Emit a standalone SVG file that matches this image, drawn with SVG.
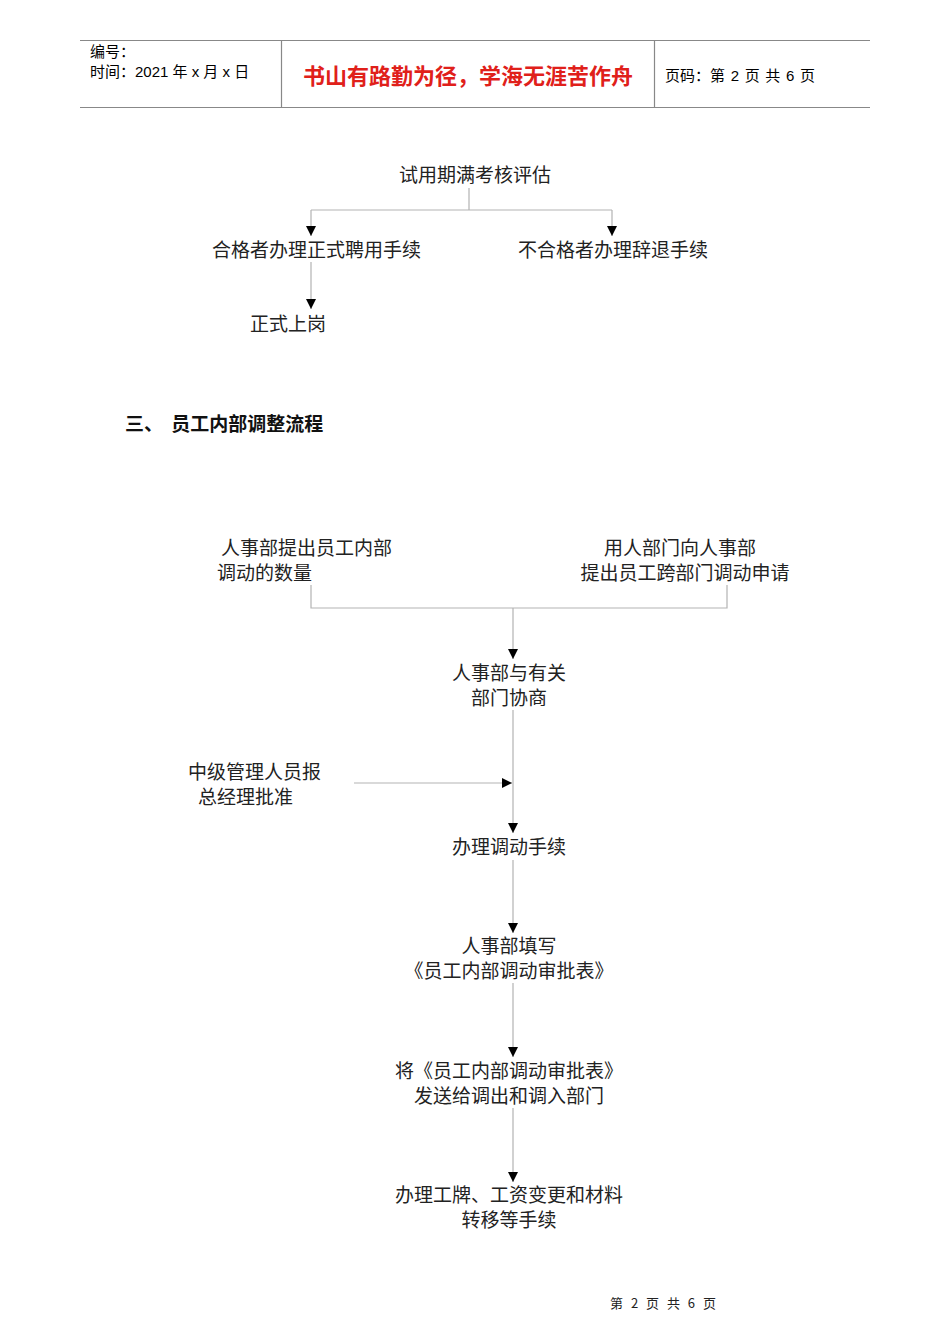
<svg xmlns="http://www.w3.org/2000/svg" width="950" height="1344" viewBox="0 0 950 1344">
<style>
.hd{font-family:"Liberation Sans","Noto Sans CJK SC",sans-serif;font-size:15px;fill:#000}
.t{font-family:"Noto Sans CJK SC",sans-serif;font-size:19px;fill:#222}
.c{text-anchor:middle}
.ln{stroke:#b3b3b3;stroke-width:1.2;fill:none}
.hl{stroke:#888;stroke-width:1.2;fill:none}
</style>
<defs>
<marker id="ar" markerUnits="userSpaceOnUse" markerWidth="12" markerHeight="12" viewBox="0 0 12 10" refX="11" refY="5" orient="auto">
<path d="M1,0 L11,5 L1,10 Z" fill="#000"/>
</marker>
</defs>
<rect width="950" height="1344" fill="#fff"/>
<g id="header">
<line class="hl" x1="80" y1="40.5" x2="870" y2="40.5"/>
<line class="hl" x1="80" y1="107.5" x2="870" y2="107.5"/>
<line class="hl" x1="281.5" y1="40" x2="281.5" y2="107"/>
<line class="hl" x1="654.5" y1="40" x2="654.5" y2="107"/>
<text class="hd" x="90" y="57">编号：</text>
<text class="hd" x="90" y="77">时间：2021 年 x 月 x 日</text>
<text x="468" y="84" text-anchor="middle" font-family="Noto Sans CJK SC,sans-serif" font-size="22" font-weight="bold" fill="#e0201a">书山有路勤为径，学海无涯苦作舟</text>
<text class="hd" x="665" y="81" word-spacing="1.5">页码：第 2 页  共 6 页</text>
</g>
<g id="connectors">
<polyline class="ln" points="469,188 469,210"/>
<polyline class="ln" points="311,210 612,210"/>
<line class="ln" x1="311" y1="210" x2="311" y2="236" marker-end="url(#ar)"/>
<line class="ln" x1="612" y1="210" x2="612" y2="236" marker-end="url(#ar)"/>
<line class="ln" x1="311" y1="262" x2="311" y2="309" marker-end="url(#ar)"/>
<polyline class="ln" points="311,585 311,608 727,608 727,585"/>
<line class="ln" x1="513" y1="608" x2="513" y2="659" marker-end="url(#ar)"/>
<line class="ln" x1="513" y1="710" x2="513" y2="833" marker-end="url(#ar)"/>
<line class="ln" x1="354" y1="783" x2="512" y2="783" marker-end="url(#ar)"/>
<line class="ln" x1="513" y1="860" x2="513" y2="933" marker-end="url(#ar)"/>
<line class="ln" x1="513" y1="983" x2="513" y2="1057" marker-end="url(#ar)"/>
<line class="ln" x1="513" y1="1108" x2="513" y2="1182" marker-end="url(#ar)"/>
</g>
<g id="n-eval"><text class="t c" x="475" y="182">试用期满考核评估</text></g>
<g id="n-pass"><text class="t" x="212" y="257">合格者办理正式聘用手续</text></g>
<g id="n-fail"><text class="t" x="518" y="257">不合格者办理辞退手续</text></g>
<g id="n-onboard"><text class="t" x="250" y="331">正式上岗</text></g>
<g id="title"><text x="125" y="431" font-family="Noto Sans CJK SC,sans-serif" font-size="19" font-weight="bold" fill="#111" word-spacing="4">三、 员工内部调整流程</text></g>
<g id="n-hr"><text class="t" x="221" y="555">人事部提出员工内部</text><text class="t" x="217" y="580">调动的数量</text></g>
<g id="n-dept"><text class="t c" x="680" y="555">用人部门向人事部</text><text class="t c" x="685" y="580">提出员工跨部门调动申请</text></g>
<g id="n-consult"><text class="t c" x="509" y="680">人事部与有关</text><text class="t c" x="509" y="705">部门协商</text></g>
<g id="n-mgr"><text class="t" x="188" y="779">中级管理人员报</text><text class="t" x="198" y="804">总经理批准</text></g>
<g id="n-proc"><text class="t c" x="509" y="854">办理调动手续</text></g>
<g id="n-fill"><text class="t c" x="509" y="953">人事部填写</text><text class="t c" x="509" y="978">《员工内部调动审批表》</text></g>
<g id="n-send"><text class="t c" x="509" y="1078">将《员工内部调动审批表》</text><text class="t c" x="509" y="1103">发送给调出和调入部门</text></g>
<g id="n-final"><text class="t c" x="509" y="1202">办理工牌、工资变更和材料</text><text class="t c" x="509" y="1227">转移等手续</text></g>
<g id="footer"><text x="610" y="1308" font-family="Noto Sans CJK SC,sans-serif" font-size="13" fill="#222" word-spacing="5">第 2 页 共 6 页</text></g>
</svg>
